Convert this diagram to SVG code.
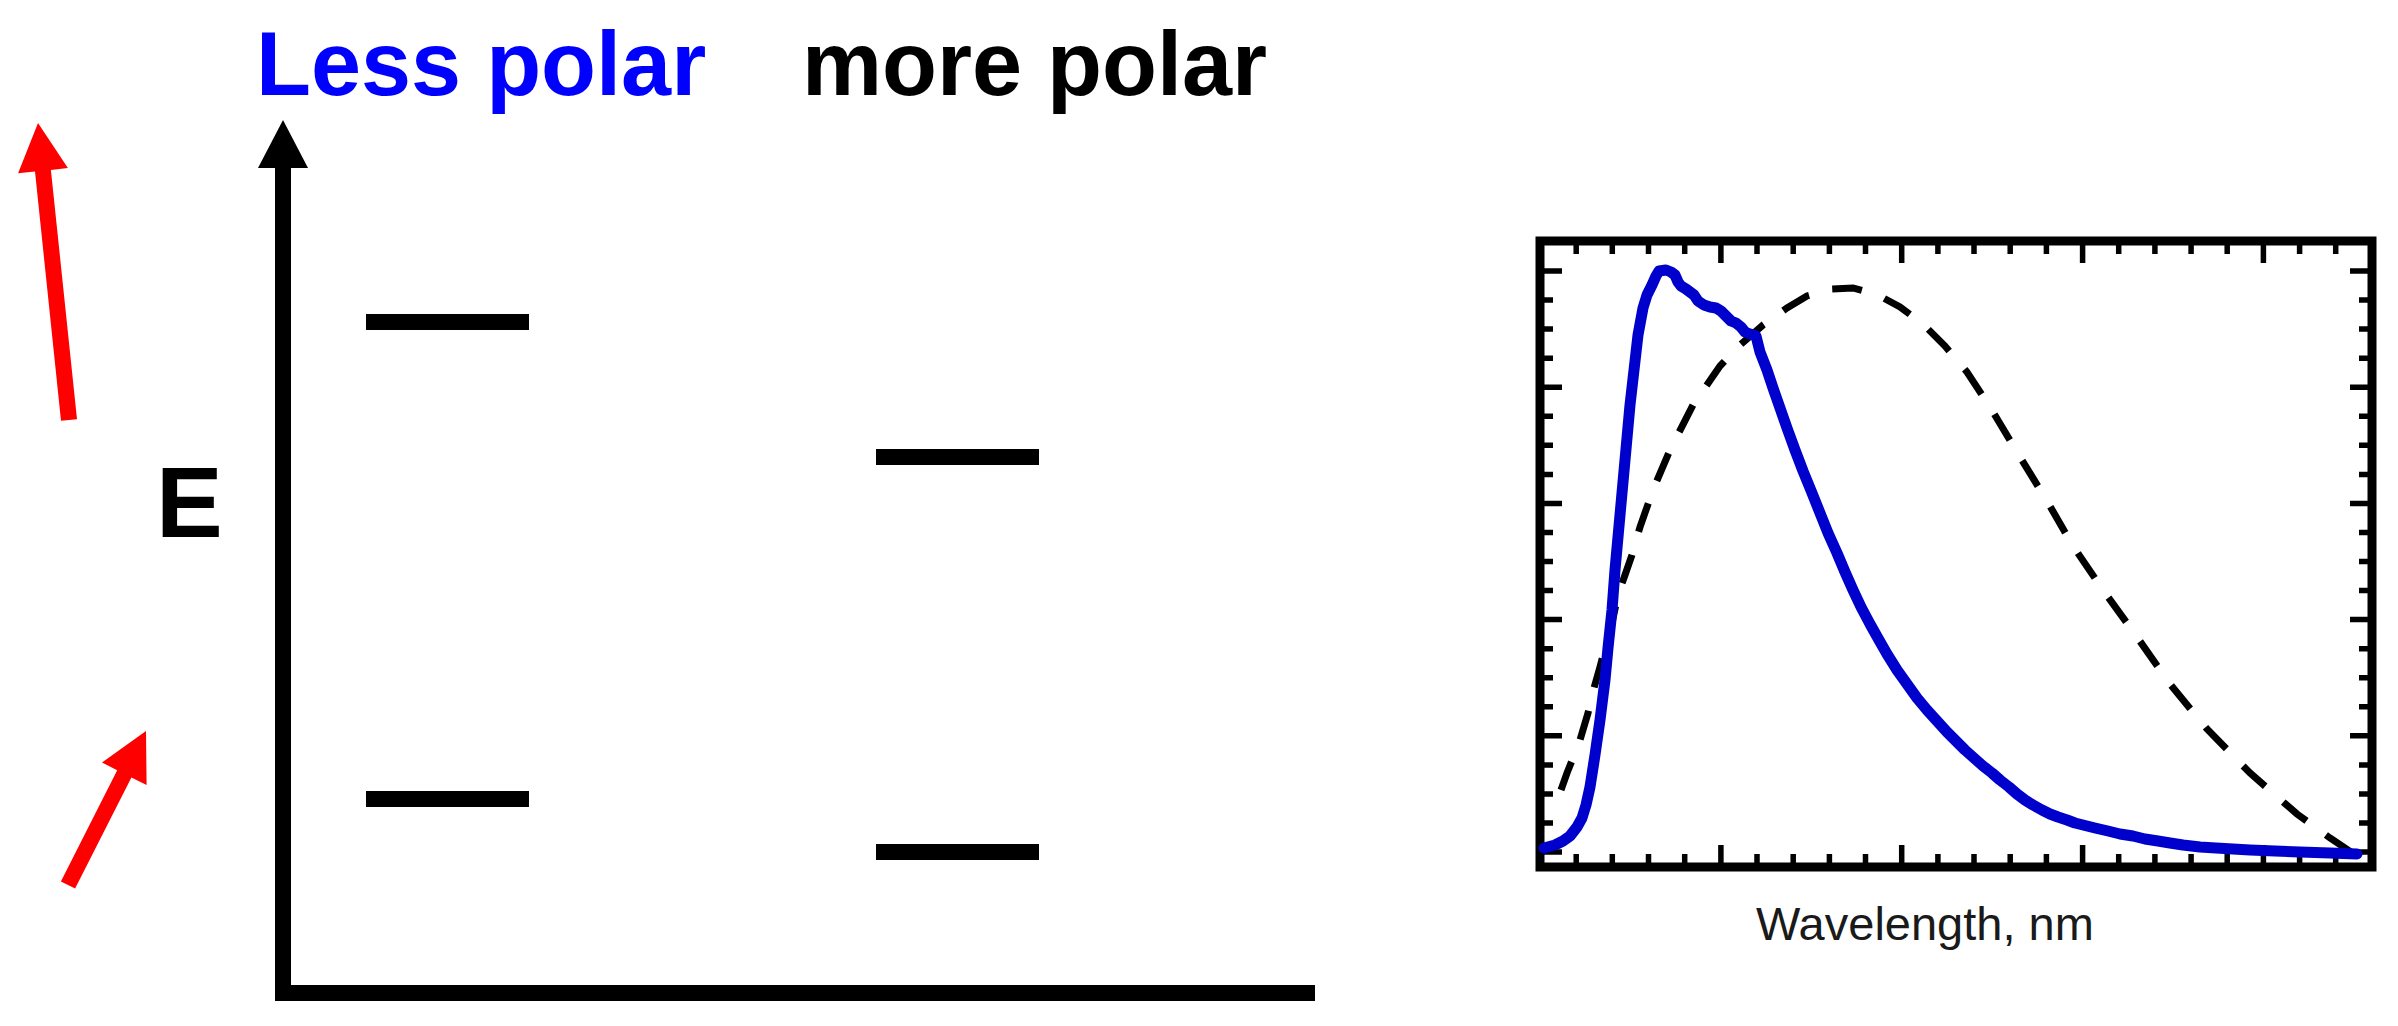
<svg xmlns="http://www.w3.org/2000/svg" width="2398" height="1026" viewBox="0 0 2398 1026">
<style>
.title{font-family:"Liberation Sans",Arial,sans-serif;font-weight:bold;font-size:90px}
.axis{fill:#000}
.level{fill:#000}
.red{fill:#FF0000}
.tick{stroke:#000;stroke-width:5.5;fill:none}
.frame{stroke:#000;stroke-width:9;fill:none}
.blue{stroke:#0000CD;stroke-width:11;fill:none;stroke-linejoin:round;stroke-linecap:round}
.dash{stroke:#000;stroke-width:7;fill:none;stroke-dasharray:30 24}
.label{font-family:"Liberation Sans",Arial,sans-serif;font-size:47px;fill:#1a1a1a}
</style>
<rect width="2398" height="1026" fill="#fff"/>
<g id="title-less-polar"><text class="title" x="256" y="95" fill="#0000FF">Less polar</text></g>
<g id="title-more-polar"><text class="title" x="802" y="95" fill="#000">more polar</text></g>
<g id="energy-axis">
<rect class="axis" x="275" y="165" width="16" height="836"/>
<rect class="axis" x="275" y="985" width="1040" height="16"/>
<polygon class="axis" points="283,120 308,168 258,168"/>
<text class="title" x="156" y="537" style="font-size:100px">E</text>
</g>
<g id="level-less-upper"><rect class="level" x="366" y="314" width="163" height="16"/></g>
<g id="level-less-lower"><rect class="level" x="366" y="791" width="163" height="16"/></g>
<g id="level-more-upper"><rect class="level" x="876" y="449" width="163" height="16"/></g>
<g id="level-more-lower"><rect class="level" x="876" y="844" width="163" height="16"/></g>
<g id="connectors">
<polygon class="red" points="61,420.8 77,419.2 50.9,169.9 67.9,168.1 38,123 18.1,173.3 35,171.5"/>
<polygon class="red" points="60.9,881.4 117.2,770.2 102,762.5 146,731 146.6,785.1 131.4,777.4 75.1,888.6"/>
</g>
<g id="spectrum-plot">
<rect class="frame" x="1540" y="241" width="832" height="626"/>
<path class="tick" d="M1576.2 245V254M1612.3 245V254M1648.5 245V254M1684.7 245V254M1757 245V254M1793.2 245V254M1829.4 245V254M1865.5 245V254M1937.9 245V254M1974 245V254M2010.2 245V254M2046.4 245V254M2118.7 245V254M2154.9 245V254M2191.1 245V254M2227.2 245V254M2299.6 245V254M2335.7 245V254"/>
<path class="tick" d="M1720.9 245V263M1901.7 245V263M2082.6 245V263M2263.4 245V263"/>
<path class="tick" d="M1576.2 863V854M1612.3 863V854M1648.5 863V854M1684.7 863V854M1757 863V854M1793.2 863V854M1829.4 863V854M1865.5 863V854M1937.9 863V854M1974 863V854M2010.2 863V854M2046.4 863V854M2118.7 863V854M2154.9 863V854M2191.1 863V854M2227.2 863V854M2299.6 863V854M2335.7 863V854"/>
<path class="tick" d="M1720.9 863V845M1901.7 863V845M2082.6 863V845M2263.4 863V845"/>
<path class="tick" d="M1544 300H1553M1544 329.1H1553M1544 358.2H1553M1544 416.3H1553M1544 445.3H1553M1544 474.4H1553M1544 532.5H1553M1544 561.5H1553M1544 590.6H1553M1544 648.7H1553M1544 677.7H1553M1544 706.8H1553M1544 764.9H1553M1544 793.9H1553M1544 823H1553"/>
<path class="tick" d="M1544 271H1562M1544 387.2H1562M1544 503.4H1562M1544 619.6H1562M1544 735.8H1562M1544 852H1562"/>
<path class="tick" d="M2368 300H2359M2368 329.1H2359M2368 358.2H2359M2368 416.3H2359M2368 445.3H2359M2368 474.4H2359M2368 532.5H2359M2368 561.5H2359M2368 590.6H2359M2368 648.7H2359M2368 677.7H2359M2368 706.8H2359M2368 764.9H2359M2368 793.9H2359M2368 823H2359"/>
<path class="tick" d="M2368 271H2350M2368 387.2H2350M2368 503.4H2350M2368 619.6H2350M2368 735.8H2350M2368 852H2350"/>
<polyline class="dash" points="1561,790 1567,773 1573,758 1580,740 1588,713 1592,695 1600,667 1605,648 1612,623 1618,595 1625,575 1632,555 1640,527 1653,490 1670,450 1693,405 1720,366 1740,345 1763,325 1787,308 1807,296 1832,289 1853,288 1878,295 1900,307 1923,324 1945,346 1967,372 1990,407 2017,452 2047,501 2073,546 2103,590 2137,637 2170,684 2207,729 2250,773 2297,814 2330,838 2357,856"/>
<polyline class="blue" points="1544,848 1555,845 1563,841 1570,836 1577,827 1582,818 1586,805 1590,787 1595,755 1600,720 1605,680 1608,648 1612,610 1615,570 1620,515 1625,460 1630,405 1634,370 1638,335 1643,308 1647,295 1652,285 1656,276 1659,271 1666,270 1671,272 1675,275 1678,282 1681,286 1686,289 1690,292 1694,295 1698,301 1704,305 1710,307 1716,308 1721,311 1726,316 1731,321 1736,323 1741,327 1745,332 1750,334 1756,336 1760,352 1767,370 1773,388 1780,408 1787,428 1795,450 1803,471 1812,493 1820,513 1828,533 1837,553 1845,572 1853,590 1861,607 1870,624 1879,640 1887,654 1897,670 1907,684 1917,698 1927,710 1937,721 1947,732 1956,741 1965,750 1974,758 1983,766 1992,773 2000,780 2009,787 2017,794 2025,800 2033,805 2042,810 2050,814 2058,817 2067,820 2075,823 2083,825 2095,828 2108,831 2120,834 2133,836 2145,839 2158,841 2170,843 2183,845 2200,847 2216,848 2233,849 2250,850 2275,851 2300,852 2330,853 2357,854"/>
<text class="label" x="1756" y="940">Wavelength, nm</text>
</g>
</svg>
